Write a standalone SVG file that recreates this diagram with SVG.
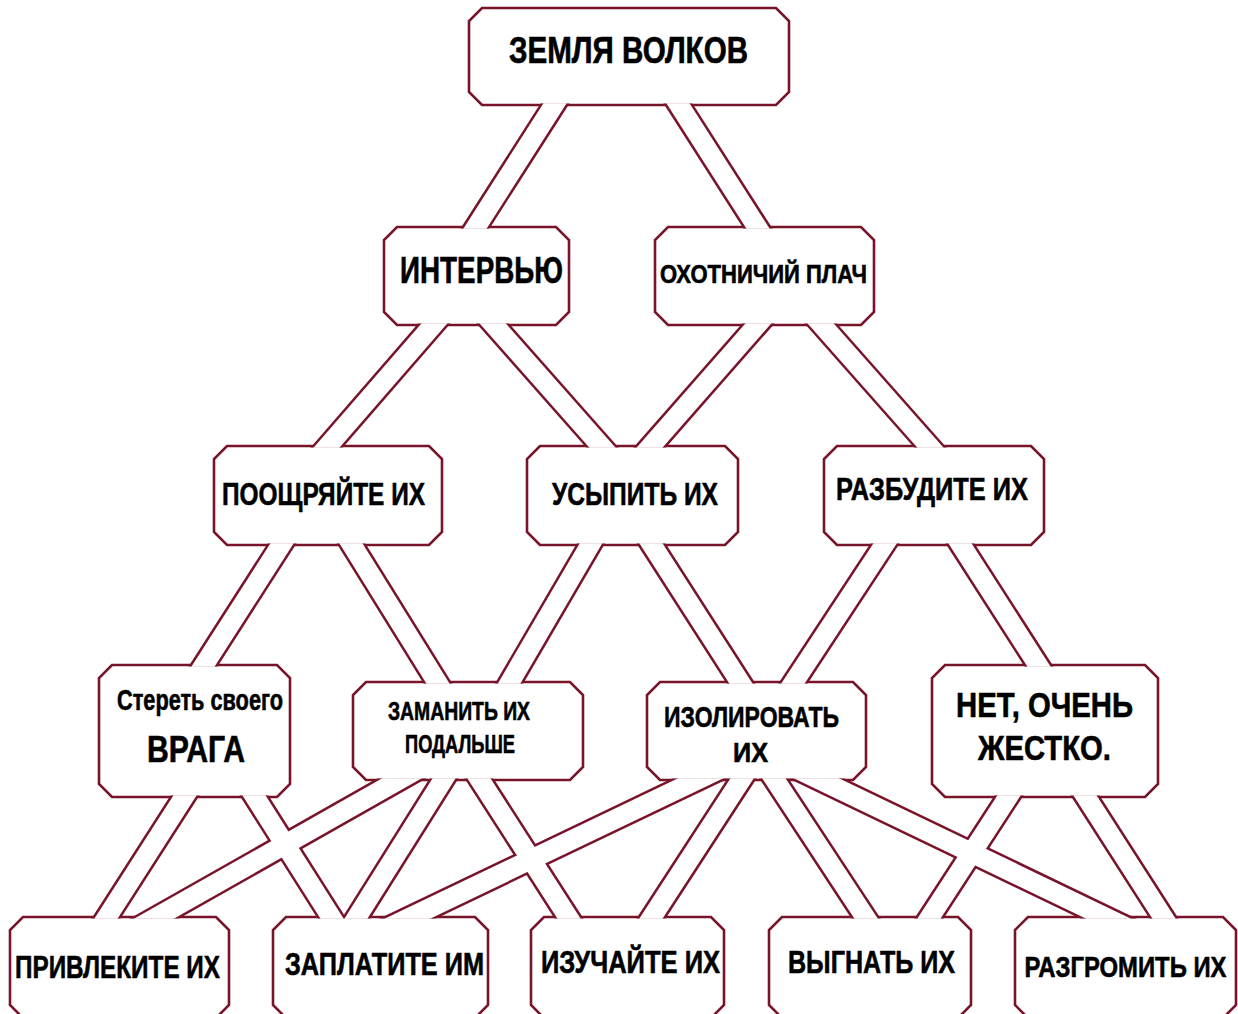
<svg xmlns="http://www.w3.org/2000/svg" xmlns:xlink="http://www.w3.org/1999/xlink" width="1238" height="1014" viewBox="0 0 1238 1014">
<style>
  .box { fill: #ffffff; stroke: #78142a; stroke-width: 2.6; }
  .lbl { font-family: "Liberation Sans Narrow", "Liberation Sans", "DejaVu Sans Condensed", sans-serif; font-weight: bold; fill: #000000; stroke: #000000; stroke-width: 0.6; }
  .band-edge line { stroke: #78142a; stroke-width: 24.5; stroke-linecap: butt; }
  .band-fill line { stroke: #ffffff; stroke-width: 19.5; stroke-linecap: butt; }
</style>
<defs>
  <polygon id="s1" points="482,8 776,8 789,21 789,92 776,105 482,105 469,92 469,21"/>
  <polygon id="s2" points="397,227 556,227 569,240 569,312 556,325 397,325 384,312 384,240"/>
  <polygon id="s3" points="668,227 861,227 874,240 874,312 861,325 668,325 655,312 655,240"/>
  <polygon id="s4" points="227,446 429,446 442,459 442,532 429,545 227,545 214,532 214,459"/>
  <polygon id="s5" points="540,446 725,446 738,459 738,532 725,545 540,545 527,532 527,459"/>
  <polygon id="s6" points="837,446 1031,446 1044,459 1044,532 1031,545 837,545 824,532 824,459"/>
  <polygon id="s7" points="112,665 277,665 290,678 290,784 277,797 112,797 99,784 99,678"/>
  <polygon id="s8" points="366,682 570,682 583,695 583,767 570,780 366,780 353,767 353,695"/>
  <polygon id="s9" points="660,682 853,682 866,695 866,767 853,780 660,780 647,767 647,695"/>
  <polygon id="s10" points="945,665 1145,665 1158,678 1158,784 1145,797 945,797 932,784 932,678"/>
  <polygon id="s11" points="23,917 216,917 229,930 229,1005 216,1018 23,1018 10,1005 10,930"/>
  <polygon id="s12" points="286,917 475,917 488,930 488,1005 475,1018 286,1018 273,1005 273,930"/>
  <polygon id="s13" points="544,917 711,917 724,930 724,1005 711,1018 544,1018 531,1005 531,930"/>
  <polygon id="s14" points="782,917 958,917 971,930 971,1005 958,1018 782,1018 769,1005 769,930"/>
  <polygon id="s15" points="1028,917 1223,917 1236,930 1236,1005 1223,1018 1028,1018 1015,1005 1015,930"/>
  <mask id="nodeMask" maskUnits="userSpaceOnUse" x="0" y="0" width="1238" height="1014">
    <rect x="0" y="0" width="1238" height="1014" fill="#ffffff"/>
    <g fill="#000000" stroke="#ffffff" stroke-width="3">
      <use href="#s1"/><use href="#s2"/><use href="#s3"/><use href="#s4"/><use href="#s5"/>
      <use href="#s6"/><use href="#s7"/><use href="#s8"/><use href="#s9"/><use href="#s10"/>
      <use href="#s11"/><use href="#s12"/><use href="#s13"/><use href="#s14"/><use href="#s15"/>
    </g>
  </mask>
</defs>
<rect x="0" y="0" width="1238" height="1014" fill="#ffffff"/>

<g id="nodes">
  <g id="node-zemlya-volkov"><use href="#s1" class="box"/><text class="lbl" x="509" y="63" font-size="36" textLength="239" lengthAdjust="spacingAndGlyphs">ЗЕМЛЯ ВОЛКОВ</text></g>
  <g id="node-intervyu"><use href="#s2" class="box"/><text class="lbl" x="400" y="283" font-size="36" textLength="163" lengthAdjust="spacingAndGlyphs">ИНТЕРВЬЮ</text></g>
  <g id="node-okhotnichiy-plach"><use href="#s3" class="box"/><text class="lbl" x="660" y="283" font-size="25" textLength="207" lengthAdjust="spacingAndGlyphs">ОХОТНИЧИЙ ПЛАЧ</text></g>
  <g id="node-pooshchryayte"><use href="#s4" class="box"/><text class="lbl" x="222" y="505" font-size="32" textLength="203" lengthAdjust="spacingAndGlyphs">ПООЩРЯЙТЕ ИХ</text></g>
  <g id="node-usypit"><use href="#s5" class="box"/><text class="lbl" x="552" y="505" font-size="32" textLength="166" lengthAdjust="spacingAndGlyphs">УСЫПИТЬ ИХ</text></g>
  <g id="node-razbudite"><use href="#s6" class="box"/><text class="lbl" x="836" y="500" font-size="31" textLength="192" lengthAdjust="spacingAndGlyphs">РАЗБУДИТЕ ИХ</text></g>
  <g id="node-steret-vraga"><use href="#s7" class="box"/>
    <text class="lbl" x="117" y="710" font-size="29" textLength="166" lengthAdjust="spacingAndGlyphs">Стереть своего</text>
    <text class="lbl" x="147" y="762" font-size="37" textLength="98" lengthAdjust="spacingAndGlyphs">ВРАГА</text></g>
  <g id="node-zamanit"><use href="#s8" class="box"/>
    <text class="lbl" x="388" y="720" font-size="25" textLength="142" lengthAdjust="spacingAndGlyphs">ЗАМАНИТЬ ИХ</text>
    <text class="lbl" x="405" y="753" font-size="25" textLength="110" lengthAdjust="spacingAndGlyphs">ПОДАЛЬШЕ</text></g>
  <g id="node-izolirovat"><use href="#s9" class="box"/>
    <text class="lbl" x="664" y="727" font-size="30" textLength="175" lengthAdjust="spacingAndGlyphs">ИЗОЛИРОВАТЬ</text>
    <text class="lbl" x="733" y="762" font-size="27" textLength="35" lengthAdjust="spacingAndGlyphs">ИХ</text></g>
  <g id="node-net-ochen-zhestko"><use href="#s10" class="box"/>
    <text class="lbl" x="956" y="717" font-size="35" textLength="177" lengthAdjust="spacingAndGlyphs">НЕТ, ОЧЕНЬ</text>
    <text class="lbl" x="978" y="760" font-size="35" textLength="133" lengthAdjust="spacingAndGlyphs">ЖЕСТКО.</text></g>
  <g id="node-privlekite"><use href="#s11" class="box"/><text class="lbl" x="15" y="978" font-size="32" textLength="205" lengthAdjust="spacingAndGlyphs">ПРИВЛЕКИТЕ ИХ</text></g>
  <g id="node-zaplatite"><use href="#s12" class="box"/><text class="lbl" x="285" y="975" font-size="32" textLength="199" lengthAdjust="spacingAndGlyphs">ЗАПЛАТИТЕ ИМ</text></g>
  <g id="node-izuchayte"><use href="#s13" class="box"/><text class="lbl" x="541" y="973" font-size="32" textLength="179" lengthAdjust="spacingAndGlyphs">ИЗУЧАЙТЕ ИХ</text></g>
  <g id="node-vygnat"><use href="#s14" class="box"/><text class="lbl" x="788" y="973" font-size="32" textLength="167" lengthAdjust="spacingAndGlyphs">ВЫГНАТЬ ИХ</text></g>
  <g id="node-razgromit"><use href="#s15" class="box"/><text class="lbl" x="1125.5" y="977" font-size="30" text-anchor="middle" textLength="202" lengthAdjust="spacingAndGlyphs">РАЗГРОМИТЬ ИХ</text></g>
</g>

<g id="connectors" mask="url(#nodeMask)">
  <g class="band-edge">
    <line x1="575.5" y1="71.3" x2="454.5" y2="260.7"/>
    <line x1="657.5" y1="71.3" x2="778.5" y2="260.7"/>
    <line x1="459.2" y1="294.8" x2="301.8" y2="476.2"/>
    <line x1="467.5" y1="295" x2="627.5" y2="476"/>
    <line x1="783.4" y1="294.9" x2="624.6" y2="476.1"/>
    <line x1="795.5" y1="295" x2="955.5" y2="476"/>
    <line x1="302.6" y1="511.3" x2="182.4" y2="698.7"/>
    <line x1="330.9" y1="511" x2="458.1" y2="716"/>
    <line x1="610.2" y1="510.4" x2="489.8" y2="716.6"/>
    <line x1="630.4" y1="511.3" x2="761.6" y2="715.7"/>
    <line x1="906" y1="511.6" x2="772" y2="715.4"/>
    <line x1="939.4" y1="511.3" x2="1059.6" y2="698.7"/>
    <line x1="205.6" y1="763.3" x2="85.4" y2="950.7"/>
    <line x1="233.6" y1="763.2" x2="352.4" y2="950.8"/>
    <line x1="451.2" y1="750.4" x2="104.8" y2="946.6"/>
    <line x1="464.3" y1="746.1" x2="335.7" y2="950.9"/>
    <line x1="458.4" y1="746.3" x2="589.6" y2="950.7"/>
    <line x1="751.1" y1="754.1" x2="356.9" y2="942.9"/>
    <line x1="762.8" y1="746.5" x2="630.2" y2="950.5"/>
    <line x1="753" y1="746.6" x2="887" y2="950.4"/>
    <line x1="765.9" y1="754" x2="1159.1" y2="943"/>
    <line x1="1029.8" y1="763.5" x2="908.2" y2="950.5"/>
    <line x1="1064.4" y1="763.3" x2="1184.6" y2="950.7"/>
  </g>
  <g class="band-fill">
    <line x1="575.5" y1="71.3" x2="454.5" y2="260.7"/>
    <line x1="657.5" y1="71.3" x2="778.5" y2="260.7"/>
    <line x1="459.2" y1="294.8" x2="301.8" y2="476.2"/>
    <line x1="467.5" y1="295" x2="627.5" y2="476"/>
    <line x1="783.4" y1="294.9" x2="624.6" y2="476.1"/>
    <line x1="795.5" y1="295" x2="955.5" y2="476"/>
    <line x1="302.6" y1="511.3" x2="182.4" y2="698.7"/>
    <line x1="330.9" y1="511" x2="458.1" y2="716"/>
    <line x1="610.2" y1="510.4" x2="489.8" y2="716.6"/>
    <line x1="630.4" y1="511.3" x2="761.6" y2="715.7"/>
    <line x1="906" y1="511.6" x2="772" y2="715.4"/>
    <line x1="939.4" y1="511.3" x2="1059.6" y2="698.7"/>
    <line x1="205.6" y1="763.3" x2="85.4" y2="950.7"/>
    <line x1="233.6" y1="763.2" x2="352.4" y2="950.8"/>
    <line x1="451.2" y1="750.4" x2="104.8" y2="946.6"/>
    <line x1="464.3" y1="746.1" x2="335.7" y2="950.9"/>
    <line x1="458.4" y1="746.3" x2="589.6" y2="950.7"/>
    <line x1="751.1" y1="754.1" x2="356.9" y2="942.9"/>
    <line x1="762.8" y1="746.5" x2="630.2" y2="950.5"/>
    <line x1="753" y1="746.6" x2="887" y2="950.4"/>
    <line x1="765.9" y1="754" x2="1159.1" y2="943"/>
    <line x1="1029.8" y1="763.5" x2="908.2" y2="950.5"/>
    <line x1="1064.4" y1="763.3" x2="1184.6" y2="950.7"/>
  </g>
</g>
</svg>
